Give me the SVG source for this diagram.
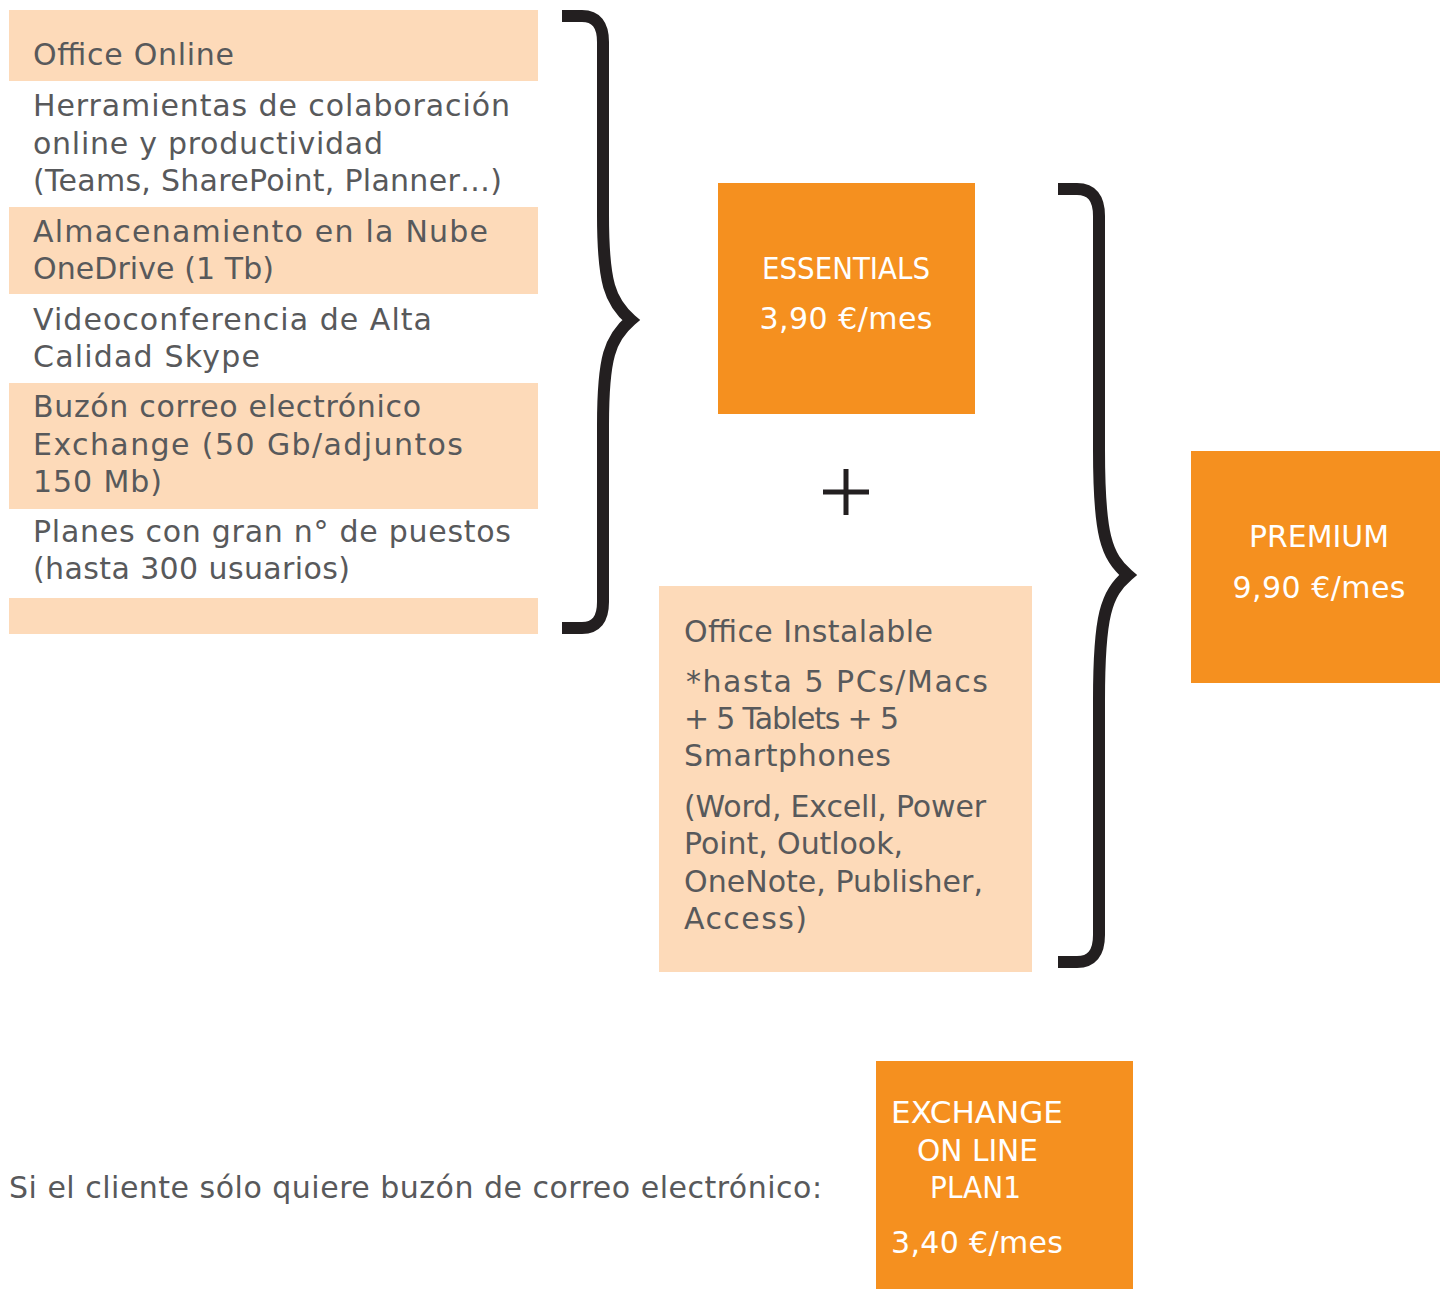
<svg xmlns="http://www.w3.org/2000/svg" width="1440" height="1289" viewBox="0 0 1440 1289">
<style>
.peach{fill:#FDDAB9}
.orange{fill:#F5901F}
.t{font-family:"DejaVu Sans","Liberation Sans",sans-serif;font-size:30px;fill:#58595B}
.w{font-family:"DejaVu Sans","Liberation Sans",sans-serif;font-size:30px;fill:#FFFFFF}
.brace{fill:none;stroke:#231F20;stroke-width:12;stroke-linejoin:miter;stroke-miterlimit:10}
</style>
<rect width="1440" height="1289" fill="#FFFFFF"/>
<g id="features">
  <rect class="peach" x="9" y="10" width="529" height="71"/>
  <rect class="peach" x="9" y="207" width="529" height="87"/>
  <rect class="peach" x="9" y="383" width="529" height="126"/>
  <rect class="peach" x="9" y="598" width="529" height="36"/>
  <text class="t" x="33" y="65" textLength="201">Office Online</text>
  <text class="t" x="33" y="116" textLength="477">Herramientas de colaboración</text>
  <text class="t" x="33" y="154" textLength="350">online y productividad</text>
  <text class="t" x="33" y="191" textLength="469">(Teams, SharePoint, Planner…)</text>
  <text class="t" x="33" y="242" textLength="455">Almacenamiento en la Nube</text>
  <text class="t" x="33" y="279" textLength="241">OneDrive (1 Tb)</text>
  <text class="t" x="33" y="330" textLength="399">Videoconferencia de Alta</text>
  <text class="t" x="33" y="367" textLength="227">Calidad Skype</text>
  <text class="t" x="33" y="417" textLength="388">Buzón correo electrónico</text>
  <text class="t" x="33" y="455" textLength="430">Exchange (50 Gb/adjuntos</text>
  <text class="t" x="33" y="492" textLength="129">150 Mb)</text>
  <text class="t" x="33" y="542" textLength="478">Planes con gran n° de puestos</text>
  <text class="t" x="33" y="579" textLength="317">(hasta 300 usuarios)</text>
</g>
<g id="essentials">
  <rect class="orange" x="718" y="183" width="257" height="231"/>
  <text class="w" x="846" y="279" text-anchor="middle" textLength="168" lengthAdjust="spacingAndGlyphs">ESSENTIALS</text>
  <text class="w" x="846" y="329" text-anchor="middle" textLength="173">3,90 €/mes</text>
</g>
<g id="office-instalable">
  <rect class="peach" x="659" y="586" width="373" height="386"/>
  <text class="t" x="684" y="642" textLength="249">Office Instalable</text>
  <text class="t" x="686" y="692" textLength="302">*hasta 5 PCs/Macs</text>
  <text class="t" x="684" y="729" textLength="215">+ 5 Tablets + 5</text>
  <text class="t" x="684" y="766" textLength="207">Smartphones</text>
  <text class="t" x="684" y="817" textLength="302">(Word, Excell, Power</text>
  <text class="t" x="684" y="854" textLength="219">Point, Outlook,</text>
  <text class="t" x="684" y="892" textLength="299">OneNote, Publisher,</text>
  <text class="t" x="684" y="929" textLength="123">Access)</text>
</g>
<g id="premium">
  <rect class="orange" x="1191" y="451" width="249" height="232"/>
  <text class="w" x="1319" y="547" text-anchor="middle" textLength="140" lengthAdjust="spacingAndGlyphs">PREMIUM</text>
  <text class="w" x="1319" y="598" text-anchor="middle" textLength="173">9,90 €/mes</text>
</g>
<g id="exchange">
  <rect class="orange" x="876" y="1061" width="257" height="228"/>
  <text class="w" x="891" y="1123" textLength="172" lengthAdjust="spacingAndGlyphs">EXCHANGE</text>
  <text class="w" x="917" y="1161" textLength="121" lengthAdjust="spacingAndGlyphs">ON LINE</text>
  <text class="w" x="930" y="1198" textLength="91" lengthAdjust="spacingAndGlyphs">PLAN1</text>
  <text class="w" x="891" y="1253" textLength="172">3,40 €/mes</text>
</g>
<g id="note">
  <text class="t" x="9" y="1198" textLength="813">Si el cliente sólo quiere buzón de correo electrónico:</text>
</g>
<g id="connectors">
  <path class="brace" d="M562,16 H582 Q603,16 603,42 V215 C603,283 610,302 631,320 C610,338 603,357 603,425 V602 Q603,628 582,628 H562"/>
  <path class="brace" d="M1058,189 H1077 Q1099,189 1099,216 V450 C1099,535 1106,556 1128,575 C1106,594 1099,615 1099,700 V935 Q1099,962 1077,962 H1058"/>
  <path d="M823,492 H869 M846,469 V515" fill="none" stroke="#231F20" stroke-width="5"/>
</g>
</svg>
